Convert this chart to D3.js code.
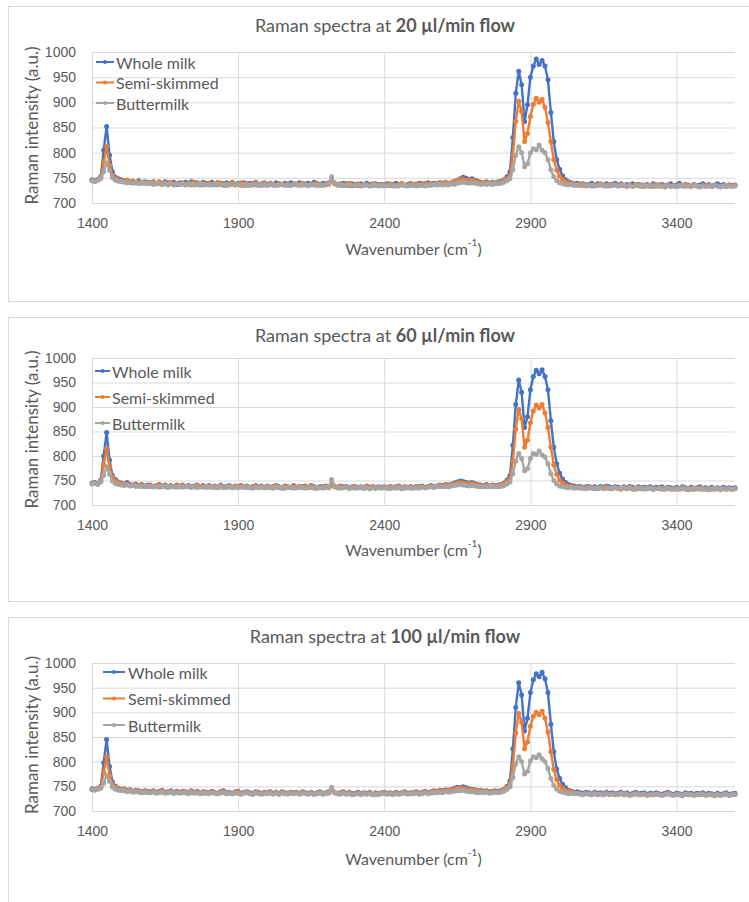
<!DOCTYPE html>
<html lang="en">
<head>
    <meta charset="UTF-8">
    <title>Raman spectra</title>
    <script src="https://d3js.org/d3.v7.min.js"></script>
    <style>
        body { margin: 0; background: #fff; }
        svg { display: block; font-family: 'Lato', 'Noto Sans', sans-serif; }
        .grid line { stroke: #d9d9d9; stroke-width: 1; }
        .grid text { fill: #595959; font-size: 14px; }
    </style>
</head>
<body>
<div id="chart"></div>
<script>
// sampling grid of the spectra (cm-1)
const waveStart = 1400;
const waveStep = 10;

const seriesNames = ["Whole milk", "Semi-skimmed", "Buttermilk"];
const seriesColors = ["#4472C4", "#ED7D31", "#A5A5A5"];
const flowRates = ["20", "60", "100"];
const xTicks = [1400, 1900, 2400, 2900, 3400];
const yTicks = [700, 750, 800, 850, 900, 950, 1000];

// 20 ul/min
const whole20 = [
  746,744,747,752,805,852,795,762,751,748, 746,744,745,742,743,741,744,740,742,741,
  740,742,739,741,738,742,740,739,741,737, 740,738,741,739,742,738,740,737,741,739,
  738,741,737,740,739,736,740,738,741,737, 739,737,740,736,739,738,741,737,738,740,
  737,739,736,740,738,737,739,736,740,738, 737,740,736,738,739,737,741,738,736,739,
  738,740,745,739,737,736,739,738,735,738, 737,735,738,736,739,737,735,738,736,737,
  736,738,735,737,739,736,738,735,737,739, 737,736,739,738,736,740,737,739,738,740,
  739,741,738,740,743,745,748,751,749,746, 748,745,743,741,740,742,739,741,740,742,
  743,746,752,762,830,918,962,935,862,895, 950,972,986,975,983,972,945,880,822,786,
  767,754,746,742,740,738,739,737,738,736, 737,739,736,738,737,735,738,736,737,739,
  736,738,735,737,736,738,735,737,736,734, 737,735,738,736,734,737,735,736,738,735,
  736,739,735,737,736,734,737,735,736,738, 735,737,734,736,738,735,737,734,736,735, 736];
const semi20 = [
  745,743,746,750,780,812,775,755,748,746, 744,742,745,741,743,740,742,739,741,740,
  739,741,738,742,737,740,738,741,736,739, 738,740,737,739,736,741,738,736,739,737,
  739,736,738,741,737,739,735,738,740,736, 738,740,735,739,737,736,740,737,735,739,
  736,738,737,735,739,737,736,738,735,737, 738,736,739,737,735,738,736,739,737,736,
  737,739,743,738,736,738,735,737,739,736, 736,738,735,737,736,734,738,736,737,735,
  737,735,738,736,734,737,739,736,735,738, 736,738,735,737,739,736,738,737,739,738,
  738,740,739,741,742,744,746,747,745,744, 745,743,741,740,739,741,738,740,739,741,
  741,744,748,754,795,862,902,882,822,838, 872,896,908,900,906,890,860,822,786,765,
  753,746,742,740,738,737,736,738,735,737, 736,734,737,735,738,736,734,737,735,736,
  734,737,735,733,736,734,737,735,733,736, 735,733,736,734,737,735,732,736,734,735,
  733,736,734,737,735,733,736,734,732,735, 734,736,733,735,734,732,735,733,736,734, 735];
const butter20 = [
  744,742,745,748,762,780,765,750,745,743, 742,741,740,741,739,740,738,740,739,738,
  739,737,739,738,737,738,736,738,737,738, 737,738,736,737,738,736,737,738,736,737,
  736,737,738,736,737,735,737,736,737,736, 737,735,737,736,735,737,736,735,737,736,
  735,737,736,735,736,737,735,736,735,737, 736,735,737,736,735,736,737,735,736,735,
  736,737,752,740,736,735,736,735,736,734, 735,736,734,735,736,734,735,736,734,735,
  734,735,736,734,735,734,736,735,734,735, 735,734,736,735,734,736,735,737,736,737,
  736,737,736,738,737,739,740,741,740,739, 740,739,738,737,738,737,738,737,739,738,
  739,741,744,748,766,795,812,800,772,778, 800,808,806,815,805,800,786,766,752,744,
  740,738,737,736,737,735,736,735,736,734, 735,736,734,735,736,734,735,734,735,736,
  734,735,736,734,735,733,735,734,735,733, 734,735,733,734,735,733,734,735,733,734,
  733,734,735,733,734,733,735,734,733,734, 733,734,733,735,734,733,734,733,734,733, 734];

// 60 ul/min
const whole60 = [
  745,746,744,751,800,848,792,760,752,747, 745,743,746,742,741,743,740,742,739,741,
  741,738,740,742,739,741,737,740,738,741, 739,741,738,740,737,739,741,738,740,737,
  740,737,739,736,741,738,737,740,736,739, 738,740,737,739,736,738,740,737,739,736,
  739,736,738,740,737,735,739,737,736,740, 736,738,737,739,736,740,737,735,738,737,
  739,736,742,738,736,739,737,738,735,737, 738,736,737,735,739,736,738,735,737,736,
  737,735,738,736,737,739,735,737,736,738, 736,738,737,739,736,738,740,737,739,741,
  740,742,741,743,745,747,749,748,746,745, 746,744,742,741,740,742,739,741,740,741,
  742,745,751,760,822,905,955,930,858,880, 935,962,975,968,976,962,935,872,818,784,
  765,753,746,742,740,739,737,738,736,737, 738,736,737,735,738,736,739,737,735,737,
  736,734,737,735,738,736,734,737,735,736, 735,737,734,736,735,737,734,736,735,734,
  736,734,737,735,733,736,734,735,737,734, 735,733,736,734,735,733,736,734,735,734, 735];
const semi60 = [
  744,745,743,749,782,815,778,756,749,746, 744,742,743,741,740,742,739,741,738,740,
  740,737,739,741,738,740,736,739,737,740, 738,740,737,739,736,738,740,737,739,736,
  739,736,738,735,740,737,736,739,735,738, 737,739,736,738,735,737,739,736,738,735,
  738,735,737,739,736,734,738,736,735,739, 735,737,736,738,735,739,736,734,737,736,
  738,735,741,737,735,738,736,737,734,736, 737,735,736,734,738,735,737,734,736,735,
  736,734,737,735,736,738,734,736,735,737, 735,737,736,738,735,737,739,736,738,740,
  739,741,740,742,743,745,746,745,744,743, 744,742,741,740,739,741,738,740,739,740,
  741,743,748,753,790,855,895,876,818,832, 868,892,904,898,905,888,858,818,782,762,
  751,745,741,739,738,737,735,736,734,735, 736,734,735,733,736,734,737,735,733,735,
  734,732,735,733,736,734,732,735,733,734, 733,735,732,734,733,735,732,734,733,732,
  734,732,735,733,731,734,732,733,735,732, 733,731,734,732,733,731,734,732,733,732, 733];
const butter60 = [
  743,744,742,747,760,778,763,749,744,742, 741,740,741,739,740,738,739,738,739,737,
  738,737,738,736,738,737,736,737,738,736, 737,736,738,737,736,737,735,737,736,737,
  736,737,735,736,737,735,736,737,735,736, 735,736,737,735,736,734,736,735,736,735,
  736,735,734,736,735,736,734,735,736,734, 735,736,735,734,736,735,734,736,735,734,
  735,736,752,739,735,734,735,736,734,735, 734,735,736,734,735,733,735,734,735,734,
  735,734,733,735,734,735,733,734,735,734, 734,735,734,736,735,736,737,736,737,738,
  737,738,737,739,740,741,742,741,740,739, 740,739,738,737,738,737,738,737,738,737,
  738,740,743,747,764,790,805,795,770,774, 795,805,803,810,802,798,784,764,750,743,
  739,737,736,735,736,734,735,734,735,733, 734,735,733,734,735,733,734,733,734,735,
  733,734,735,733,734,732,734,733,734,732, 733,734,732,733,734,732,733,734,732,733,
  732,733,734,732,733,732,734,733,732,733, 732,733,732,734,733,732,733,732,733,732, 733];

// 100 ul/min
const whole100 = [
  745,744,746,750,798,845,790,759,750,746, 744,745,742,743,740,742,741,739,741,740,
  739,741,738,740,742,738,739,741,737,740, 738,740,739,737,741,738,740,736,739,738,
  737,740,738,736,739,741,737,738,736,739, 740,736,738,739,737,735,739,738,736,738,
  737,739,736,738,735,739,737,736,738,737, 738,736,739,737,736,738,735,737,739,736,
  737,739,744,738,736,737,739,736,738,735, 736,738,735,737,736,738,734,737,735,737,
  738,736,737,735,738,736,737,739,736,737, 737,739,736,738,740,737,739,741,740,742,
  741,743,742,744,746,748,747,749,747,745, 744,743,741,742,740,741,739,740,741,740,
  742,744,750,761,826,910,960,935,862,888, 940,966,978,972,981,968,940,876,820,785,
  766,754,747,742,740,738,739,737,736,738, 737,735,738,736,737,735,738,736,737,735,
  736,738,735,737,734,736,738,735,736,737, 734,736,735,737,735,734,736,738,735,734,
  736,735,733,737,735,736,734,736,735,737, 734,736,735,733,736,734,735,737,734,735, 736];
const semi100 = [
  744,743,745,748,778,810,772,754,748,745, 743,744,741,742,740,741,740,738,740,739,
  738,740,737,739,741,737,738,740,736,739, 737,739,738,736,740,737,739,735,738,737,
  736,739,737,735,738,740,736,737,735,738, 739,735,737,738,736,734,738,737,735,737,
  736,738,735,737,734,738,736,735,737,736, 737,735,738,736,735,737,734,736,738,735,
  736,738,742,737,735,736,738,735,737,734, 735,737,734,736,735,737,733,736,734,736,
  737,735,736,734,737,735,736,738,735,736, 736,738,735,737,739,736,738,740,739,741,
  740,742,741,743,744,746,745,746,744,743, 743,742,740,741,739,740,738,739,740,739,
  741,743,748,754,792,858,898,880,826,840, 872,892,900,895,902,888,860,820,784,764,
  752,746,742,740,738,737,736,735,734,736, 735,733,736,734,735,733,736,734,735,733,
  734,736,733,735,732,734,736,733,734,735, 732,734,733,735,733,732,734,736,733,732,
  734,733,731,735,733,734,732,734,733,735, 732,734,733,731,734,732,733,735,732,733, 734];
const butter100 = [
  743,742,744,746,756,772,760,748,744,742, 741,741,739,740,738,739,738,737,738,737,
  737,738,736,737,738,736,737,738,736,737, 736,737,737,735,737,736,737,735,736,736,
  735,737,736,735,736,737,735,736,735,736, 736,734,736,737,735,734,736,735,734,736,
  735,736,734,736,734,736,735,734,736,735, 736,734,736,735,734,736,734,735,736,734,
  735,736,748,738,735,734,736,734,735,733, 734,735,733,735,734,735,733,734,733,735,
  735,734,735,733,735,734,735,736,734,735, 735,736,734,735,737,735,736,737,737,738,
  737,739,738,739,740,741,741,742,740,739, 739,738,737,738,737,738,736,737,738,737,
  738,740,744,749,768,796,810,800,775,780, 802,810,808,814,806,800,786,766,752,744,
  740,738,737,735,736,735,736,734,733,735, 734,733,735,733,734,733,735,733,734,733,
  733,735,733,734,732,733,735,733,733,734, 732,733,733,734,733,732,733,735,733,732,
  733,733,731,734,733,733,732,733,733,734, 732,733,733,731,733,732,733,734,732,733, 733];

const spectra = [
  [whole20, semi20, butter20],
  [whole60, semi60, butter60],
  [whole100, semi100, butter100]
];

// panel placement on the page
const panels = [
  { top: 6,   bottom: 301, titleY: 25,  plotTop: 52,  plotBottom: 203, tickY: 15, xTitleY: 248,
    legend: { x: 96,  y: 62,  dy: 20.5, len: 18, textX: 116 } },
  { top: 317, bottom: 601, titleY: 335, plotTop: 358, plotBottom: 505, tickY: 15, xTitleY: 549,
    legend: { x: 95,  y: 371, dy: 26,   len: 15, textX: 112 } },
  { top: 617, bottom: 960, titleY: 636, plotTop: 663, plotBottom: 811, tickY: 15, xTitleY: 858,
    legend: { x: 103, y: 672, dy: 26.5, len: 22, textX: 128 } }
];

const width = 749, height = 902;
const plotLeft = 92, plotRight = 735;

const svg = d3.select("#chart").append("svg")
    .attr("width", width)
    .attr("height", height);

svg.append("rect").attr("width", width).attr("height", height).attr("fill", "#fff");

const x = d3.scaleLinear().domain([1400, 3600]).range([plotLeft, plotRight]);

panels.forEach((p, pi) => {
    const g = svg.append("g");

    g.append("rect")
        .attr("x", 8.5).attr("y", p.top + 0.5)
        .attr("width", 800).attr("height", p.bottom - p.top)
        .attr("fill", "#fff").attr("stroke", "#d9d9d9");

    const y = d3.scaleLinear().domain([700, 1000]).range([p.plotBottom, p.plotTop]);

    // title
    const title = g.append("text")
        .attr("x", 385).attr("y", p.titleY)
        .attr("text-anchor", "middle").attr("dominant-baseline", "central")
        .attr("fill", "#595959").attr("font-size", "18px");
    title.append("tspan").text("Raman spectra at ");
    title.append("tspan").attr("font-weight", "bold").text(flowRates[pi] + " µl/min flow");

    // horizontal gridlines + y labels
    g.append("g").attr("class", "grid")
        .attr("transform", `translate(${plotLeft},0)`)
        .call(d3.axisLeft(y).tickValues(yTicks).tickFormat(d3.format("d"))
            .tickSize(-(plotRight - plotLeft)).tickPadding(16))
        .call(s => s.select(".domain").remove());

    // vertical gridlines + x labels
    g.append("g").attr("class", "grid")
        .attr("transform", `translate(0,${p.plotBottom})`)
        .call(d3.axisBottom(x).tickValues(xTicks).tickFormat(d3.format("d"))
            .tickSize(-(p.plotBottom - p.plotTop)).tickPadding(p.tickY))
        .call(s => s.select(".domain").remove());

    // axis titles
    const xt = g.append("text")
        .attr("x", (plotLeft + plotRight) / 2).attr("y", p.xTitleY)
        .attr("text-anchor", "middle").attr("dominant-baseline", "central")
        .attr("fill", "#595959").attr("font-size", "16px");
    xt.append("tspan").text("Wavenumber (cm");
    xt.append("tspan").attr("font-size", "10px").attr("baseline-shift", "super").text("-1");
    xt.append("tspan").text(")");

    g.append("text")
        .attr("transform", `translate(31,${(p.plotTop + p.plotBottom) / 2 - 2}) rotate(-90)`)
        .attr("text-anchor", "middle").attr("dominant-baseline", "central")
        .attr("fill", "#595959").attr("font-size", "17px")
        .text("Raman intensity (a.u.)");

    // spectra: line + markers, series drawn in order
    const line = d3.line()
        .x((d, i) => x(waveStart + i * waveStep))
        .y(d => y(d));

    spectra[pi].forEach((vals, si) => {
        const sg = g.append("g");
        sg.append("path")
            .datum(vals)
            .attr("d", line)
            .attr("fill", "none")
            .attr("stroke", seriesColors[si])
            .attr("stroke-width", 2.4)
            .attr("stroke-linejoin", "round");
        sg.selectAll("circle")
            .data(vals)
            .join("circle")
            .attr("cx", (d, i) => x(waveStart + i * waveStep))
            .attr("cy", d => y(d))
            .attr("r", 2.5)
            .attr("fill", seriesColors[si]);
    });

    // legend
    const lg = g.append("g");
    seriesNames.forEach((name, si) => {
        const ly = p.legend.y + si * p.legend.dy;
        lg.append("line")
            .attr("x1", p.legend.x).attr("x2", p.legend.x + p.legend.len)
            .attr("y1", ly).attr("y2", ly)
            .attr("stroke", seriesColors[si]).attr("stroke-width", 2);
        lg.append("circle")
            .attr("cx", p.legend.x + p.legend.len / 2).attr("cy", ly)
            .attr("r", 2).attr("fill", seriesColors[si]);
        lg.append("text")
            .attr("x", p.legend.textX).attr("y", ly)
            .attr("dominant-baseline", "central")
            .attr("fill", "#595959").attr("font-size", "16px")
            .text(name);
    });
});
</script>
</body>
</html>
